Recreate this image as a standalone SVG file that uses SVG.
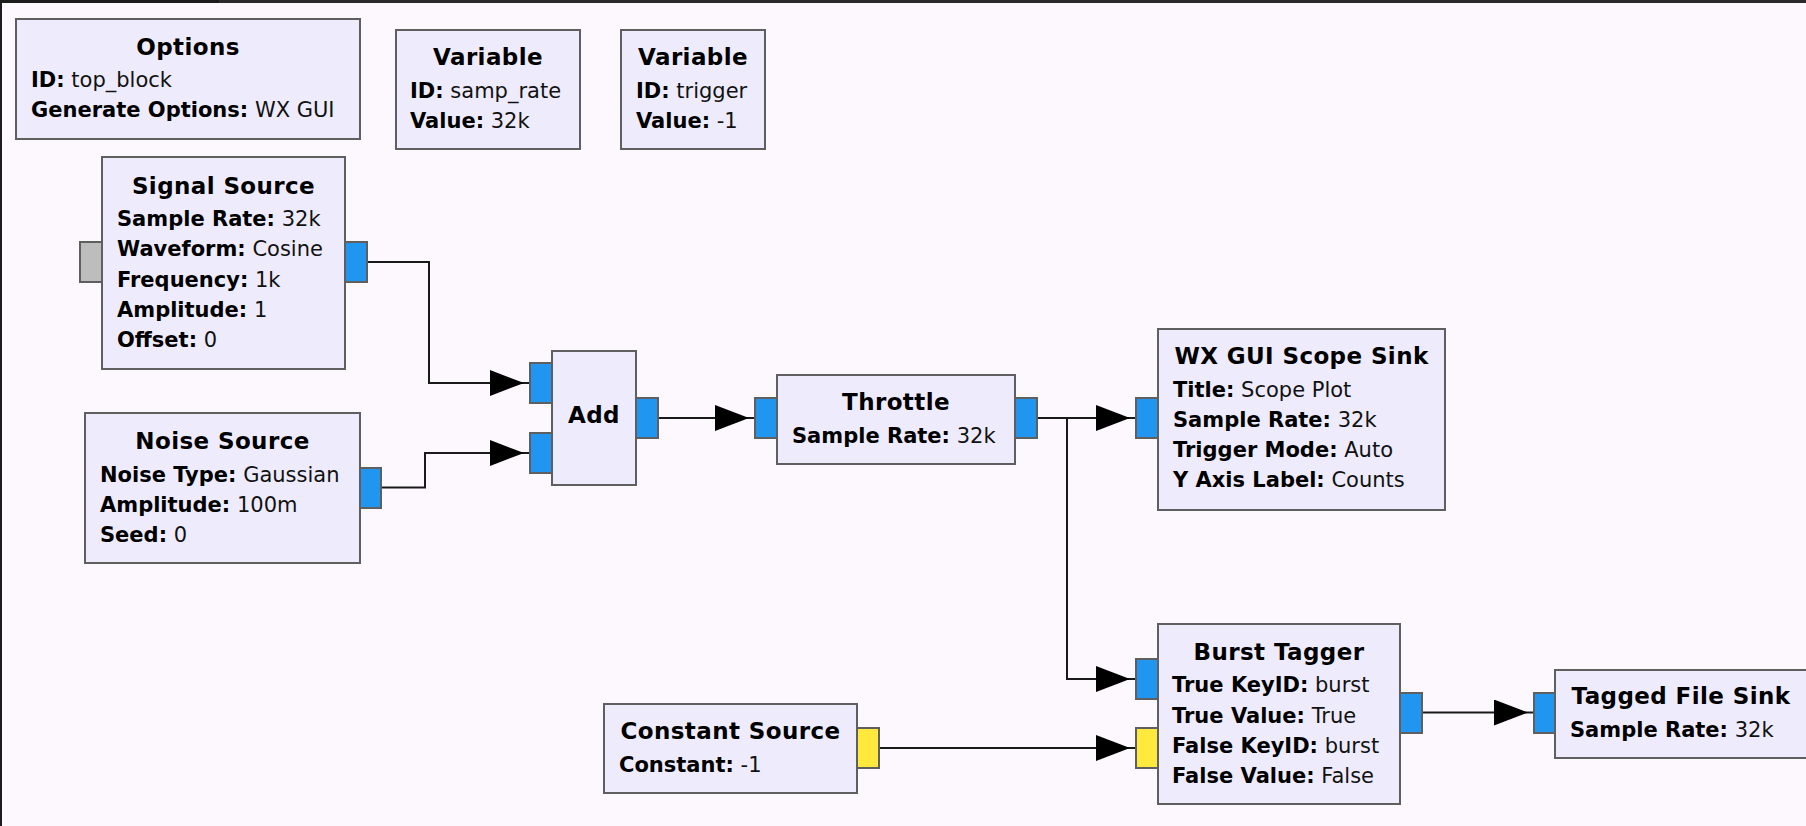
<svg xmlns="http://www.w3.org/2000/svg" width="1806" height="826" viewBox="0 0 1806 826">
  <style>
    .blk { fill: #eeecfc; stroke: #5f5f5f; stroke-width: 2; }
    .pin { fill: #2196f0; stroke: #5f5f5f; stroke-width: 2; }
    .pin-y { fill: #ffe93c; stroke: #5f5f5f; stroke-width: 2; }
    .pin-g { fill: #bdbdbd; stroke: #5f5f5f; stroke-width: 2; }
    .title { font-family: "DejaVu Sans", sans-serif; font-weight: bold; font-size: 23px; letter-spacing: 0.4px; fill: #000; text-anchor: middle; }
    .prm { font-family: "DejaVu Sans", sans-serif; font-size: 21px; fill: #111; }
    .prm tspan.k { font-weight: bold; fill: #000; }
    .wire { fill: none; stroke: #1a1a1a; stroke-width: 2; marker-end: url(#head); }
  </style>
  <defs>
    <marker id="head" markerUnits="userSpaceOnUse" viewBox="0 0 40 26" refX="40" refY="13" markerWidth="40" markerHeight="26" orient="auto">
      <path d="M0,0 L34,13 L0,26 Z" fill="#000"/>
    </marker>
  </defs>

  <!-- canvas -->
  <rect x="0" y="0" width="1806" height="826" fill="#fdf8fd"/>
  <rect x="0" y="0" width="219" height="3" fill="#1c1c1c"/>
  <rect x="219" y="0" width="1587" height="3" fill="#2b2b2b"/>
  <rect x="0" y="0" width="2" height="826" fill="#1c1c1c"/>

  <!-- connectors -->
  <g id="connectors">
    <path class="wire" d="M367,262 H429 V383 H530"/>
    <path class="wire" d="M381,487.5 H425 V453 H530"/>
    <path class="wire" d="M658,418 H755"/>
    <path class="wire" d="M1037,418 H1136"/>
    <path class="wire" d="M1067,418 V679 H1136"/>
    <path class="wire" d="M878,748 H1136"/>
    <path class="wire" d="M1422,712.5 H1534"/>
  </g>

  <g id="options">
    <rect class="blk" x="16" y="19" width="344" height="120"/>
    <text class="title" x="188" y="55">Options</text>
    <text class="prm" x="31" y="87"><tspan class="k">ID:</tspan> top_block</text>
    <text class="prm" x="31" y="117"><tspan class="k">Generate Options:</tspan> WX GUI</text>
  </g>

  <g id="variable_samp_rate">
    <rect class="blk" x="396" y="30" width="184" height="119"/>
    <text class="title" x="488" y="65">Variable</text>
    <text class="prm" x="410" y="98"><tspan class="k">ID:</tspan> samp_rate</text>
    <text class="prm" x="410" y="128"><tspan class="k">Value:</tspan> 32k</text>
  </g>

  <g id="variable_trigger">
    <rect class="blk" x="621" y="30" width="144" height="119"/>
    <text class="title" x="693" y="65">Variable</text>
    <text class="prm" x="636" y="98"><tspan class="k">ID:</tspan> trigger</text>
    <text class="prm" x="636" y="128"><tspan class="k">Value:</tspan> -1</text>
  </g>

  <g id="signal_source">
    <rect class="pin-g" x="80" y="242" width="22" height="40"/>
    <rect class="pin" x="345" y="242" width="22" height="40"/>
    <rect class="blk" x="102" y="157" width="243" height="212"/>
    <text class="title" x="223.5" y="194">Signal Source</text>
    <text class="prm" x="117" y="226"><tspan class="k">Sample Rate:</tspan> 32k</text>
    <text class="prm" x="117" y="256"><tspan class="k">Waveform:</tspan> Cosine</text>
    <text class="prm" x="117" y="287"><tspan class="k">Frequency:</tspan> 1k</text>
    <text class="prm" x="117" y="317"><tspan class="k">Amplitude:</tspan> 1</text>
    <text class="prm" x="117" y="347"><tspan class="k">Offset:</tspan> 0</text>
  </g>

  <g id="noise_source">
    <rect class="pin" x="360" y="468" width="21" height="40"/>
    <rect class="blk" x="85" y="413" width="275" height="150"/>
    <text class="title" x="222.5" y="449">Noise Source</text>
    <text class="prm" x="100" y="482"><tspan class="k">Noise Type:</tspan> Gaussian</text>
    <text class="prm" x="100" y="512"><tspan class="k">Amplitude:</tspan> 100m</text>
    <text class="prm" x="100" y="542"><tspan class="k">Seed:</tspan> 0</text>
  </g>

  <g id="add">
    <rect class="pin" x="530" y="363" width="22" height="40"/>
    <rect class="pin" x="530" y="433" width="22" height="40"/>
    <rect class="pin" x="636" y="398" width="22" height="40"/>
    <rect class="blk" x="552" y="351" width="84" height="134"/>
    <text class="title" x="594" y="423">Add</text>
  </g>

  <g id="throttle">
    <rect class="pin" x="755" y="398" width="22" height="40"/>
    <rect class="pin" x="1015" y="398" width="22" height="40"/>
    <rect class="blk" x="777" y="375" width="238" height="89"/>
    <text class="title" x="896" y="410">Throttle</text>
    <text class="prm" x="792" y="443"><tspan class="k">Sample Rate:</tspan> 32k</text>
  </g>

  <g id="scope_sink">
    <rect class="pin" x="1136" y="398" width="22" height="40"/>
    <rect class="blk" x="1158" y="329" width="287" height="181"/>
    <text class="title" x="1301.5" y="364">WX GUI Scope Sink</text>
    <text class="prm" x="1173" y="397"><tspan class="k">Title:</tspan> Scope Plot</text>
    <text class="prm" x="1173" y="427"><tspan class="k">Sample Rate:</tspan> 32k</text>
    <text class="prm" x="1173" y="457"><tspan class="k">Trigger Mode:</tspan> Auto</text>
    <text class="prm" x="1173" y="487"><tspan class="k">Y Axis Label:</tspan> Counts</text>
  </g>

  <g id="burst_tagger">
    <rect class="pin" x="1136" y="659" width="22" height="40"/>
    <rect class="pin-y" x="1136" y="728" width="22" height="40"/>
    <rect class="pin" x="1400" y="693" width="22" height="40"/>
    <rect class="blk" x="1158" y="624" width="242" height="180"/>
    <text class="title" x="1279" y="660">Burst Tagger</text>
    <text class="prm" x="1172" y="692"><tspan class="k">True KeyID:</tspan> burst</text>
    <text class="prm" x="1172" y="723"><tspan class="k">True Value:</tspan> True</text>
    <text class="prm" x="1172" y="753"><tspan class="k">False KeyID:</tspan> burst</text>
    <text class="prm" x="1172" y="783"><tspan class="k">False Value:</tspan> False</text>
  </g>

  <g id="constant_source">
    <rect class="pin-y" x="857" y="728" width="22" height="40"/>
    <rect class="blk" x="604" y="704" width="253" height="89"/>
    <text class="title" x="730.5" y="739">Constant Source</text>
    <text class="prm" x="619" y="772"><tspan class="k">Constant:</tspan> -1</text>
  </g>

  <g id="tagged_file_sink">
    <rect class="pin" x="1534" y="693" width="21" height="40"/>
    <rect class="blk" x="1555" y="670" width="252" height="88"/>
    <text class="title" x="1681" y="704">Tagged File Sink</text>
    <text class="prm" x="1570" y="737"><tspan class="k">Sample Rate:</tspan> 32k</text>
  </g>
</svg>
